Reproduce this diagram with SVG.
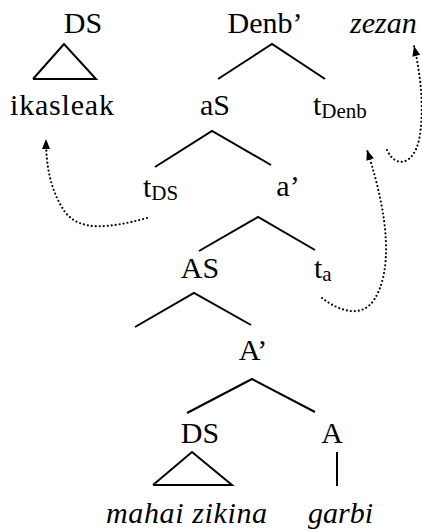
<svg xmlns="http://www.w3.org/2000/svg" width="422" height="531" viewBox="0 0 422 531">
<style>
text{font-family:'Liberation Serif','Times New Roman',serif;font-size:30px;fill:#000}
.m{text-anchor:middle}
.i{font-style:italic}
.sub{font-size:21px}
.ln{stroke:#000;stroke-width:2;fill:none}
.dot{stroke:#000;stroke-width:2.2;fill:none;stroke-dasharray:0 4;stroke-linecap:round}
</style>
<defs>
<marker id="ah" markerUnits="userSpaceOnUse" markerWidth="11" markerHeight="9" refX="10" refY="4" orient="auto" overflow="visible">
<path d="M0,0 L10,4 L0,8 z" fill="#000"/>
</marker>
</defs>
<rect width="422" height="531" fill="#fff"/>
<g id="edges">
<polyline class="ln" points="33,79 64,44 96,79 33,79"/>
<polyline class="ln" points="218,79 272,44 325,79"/>
<polyline class="ln" points="155,167 212,131 271,165"/>
<polyline class="ln" points="199,251 258,217 315,250"/>
<polyline class="ln" points="135,327 194,293 251,325"/>
<polyline class="ln" points="187,413 252,379 315,412"/>
<polyline class="ln" points="153,485 192,452 232,485 153,485"/>
<line class="ln" x1="337" y1="452" x2="337" y2="486"/>
</g>
<g id="movement">
<path class="dot" d="M387,150 C395,168 413,166 419,140 C424,115 422,80 414,46" marker-end="url(#ah)"/>
<path class="dot" d="M322,298 C340,312 362,318 374,300 C392,272 390,220 367,150" marker-end="url(#ah)"/>
<path class="dot" d="M147,218 C110,228 80,232 65,212 C50,190 46,165 46,139" marker-end="url(#ah)"/>
</g>
<g id="n-DS-top"><text class="m" x="83" y="33">DS</text></g>
<g id="n-ikasleak"><text x="10" y="115" textLength="104" lengthAdjust="spacing">ikasleak</text></g>
<g id="n-Denb"><text class="m" x="265" y="33">Denb’</text></g>
<g id="n-zezan"><text class="i" x="350" y="33">zezan</text></g>
<g id="n-aS"><text class="m" x="215" y="115">aS</text></g>
<g id="n-tDenb"><text x="313" y="115">t<tspan class="sub" dy="3">Denb</tspan></text></g>
<g id="n-tDS"><text x="143" y="197">t<tspan class="sub" dy="3">DS</tspan></text></g>
<g id="n-a1"><text class="m" x="288" y="196">a’</text></g>
<g id="n-AS"><text class="m" x="200" y="278">AS</text></g>
<g id="n-ta"><text x="314" y="278">t<tspan class="sub" dy="3">a</tspan></text></g>
<g id="n-A1"><text class="m" x="253" y="360">A’</text></g>
<g id="n-DS-low"><text class="m" x="200" y="443">DS</text></g>
<g id="n-A"><text class="m" x="332" y="443">A</text></g>
<g id="n-mahai"><text class="i" x="106" y="523" textLength="161" lengthAdjust="spacing">mahai zikina</text></g>
<g id="n-garbi"><text class="i" x="308" y="523">garbi</text></g>
</svg>
